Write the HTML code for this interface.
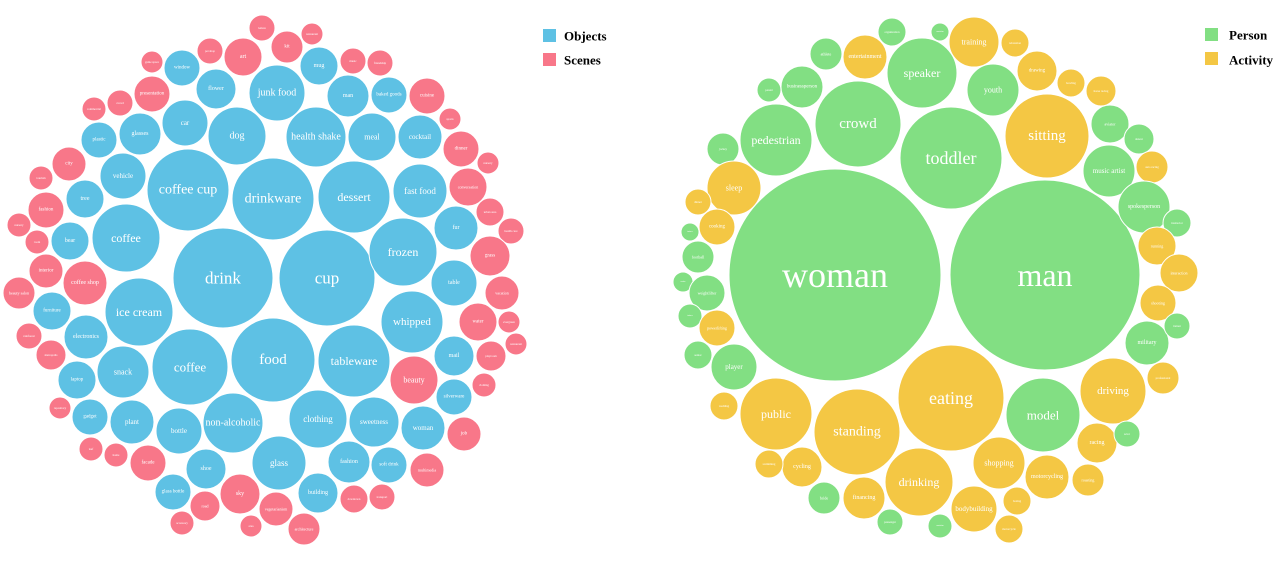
<!DOCTYPE html>
<html><head><meta charset="utf-8"><style>
html,body{margin:0;padding:0;background:#fff;}
svg{display:block;}
circle{stroke:#fff;stroke-width:1;}
.b{fill:#5ec1e4}.r{fill:#f87789}.g{fill:#82df83}.y{fill:#f4c744}
text{font-family:"Liberation Serif",serif;fill:#fff;text-anchor:middle;dominant-baseline:central;}
.lg{fill:#000;font-weight:bold;font-size:13px;text-anchor:start;}
</style></head><body>
<svg width="1280" height="565" viewBox="0 0 1280 565" xmlns="http://www.w3.org/2000/svg">
<!-- LEFT -->
<circle class="b" cx="223" cy="278" r="50"/><text x="223" y="278" font-size="17">drink</text>
<circle class="b" cx="327" cy="278" r="48"/><text x="327" y="278" font-size="17">cup</text>
<circle class="b" cx="188" cy="190" r="41"/><text x="188" y="190" font-size="14">coffee cup</text>
<circle class="b" cx="273" cy="199" r="41"/><text x="273" y="199" font-size="14">drinkware</text>
<circle class="b" cx="354" cy="197" r="36"/><text x="354" y="197" font-size="12">dessert</text>
<circle class="b" cx="273" cy="360" r="42"/><text x="273" y="360" font-size="15">food</text>
<circle class="b" cx="190" cy="367" r="38"/><text x="190" y="367" font-size="13">coffee</text>
<circle class="b" cx="354" cy="361" r="36"/><text x="354" y="361" font-size="12">tableware</text>
<circle class="b" cx="139" cy="312" r="34"/><text x="139" y="312" font-size="12">ice cream</text>
<circle class="b" cx="126" cy="238" r="34"/><text x="126" y="238" font-size="12">coffee</text>
<circle class="b" cx="403" cy="252" r="34"/><text x="403" y="252" font-size="12">frozen</text>
<circle class="b" cx="412" cy="322" r="31"/><text x="412" y="322" font-size="11">whipped</text>
<circle class="b" cx="237" cy="136" r="29"/><text x="237" y="136" font-size="10">dog</text>
<circle class="b" cx="277" cy="93" r="28"/><text x="277" y="93" font-size="10">junk food</text>
<circle class="b" cx="316" cy="137" r="30"/><text x="316" y="137" font-size="10">health shake</text>
<circle class="b" cx="372" cy="137" r="24"/><text x="372" y="137" font-size="8">meal</text>
<circle class="b" cx="420" cy="137" r="22"/><text x="420" y="137" font-size="7">cocktail</text>
<circle class="b" cx="420" cy="191" r="27"/><text x="420" y="191" font-size="9">fast food</text>
<circle class="b" cx="233" cy="423" r="30"/><text x="233" y="423" font-size="10">non-alcoholic</text>
<circle class="b" cx="318" cy="419" r="29"/><text x="318" y="419" font-size="9">clothing</text>
<circle class="b" cx="374" cy="422" r="25"/><text x="374" y="422" font-size="7">sweetness</text>
<circle class="b" cx="423" cy="428" r="22"/><text x="423" y="428" font-size="7">woman</text>
<circle class="b" cx="279" cy="463" r="27"/><text x="279" y="463" font-size="9">glass</text>
<circle class="b" cx="179" cy="431" r="23"/><text x="179" y="431" font-size="7">bottle</text>
<circle class="b" cx="132" cy="422" r="22"/><text x="132" y="422" font-size="7">plant</text>
<circle class="b" cx="123" cy="372" r="26"/><text x="123" y="372" font-size="8">snack</text>
<circle class="b" cx="185" cy="123" r="23"/><text x="185" y="123" font-size="7">car</text>
<circle class="b" cx="216" cy="89" r="20"/><text x="216" y="89" font-size="6">flower</text>
<circle class="b" cx="182" cy="68" r="18"/><text x="182" y="68" font-size="5">window</text>
<circle class="b" cx="319" cy="66" r="19"/><text x="319" y="66" font-size="6">mug</text>
<circle class="b" cx="348" cy="96" r="21"/><text x="348" y="96" font-size="6">man</text>
<circle class="b" cx="389" cy="95" r="18"/><text x="389" y="95" font-size="5">baked goods</text>
<circle class="b" cx="140" cy="134" r="21"/><text x="140" y="134" font-size="6">glasses</text>
<circle class="b" cx="99" cy="140" r="18"/><text x="99" y="140" font-size="5">plastic</text>
<circle class="b" cx="123" cy="176" r="23"/><text x="123" y="176" font-size="7">vehicle</text>
<circle class="b" cx="85" cy="199" r="19"/><text x="85" y="199" font-size="6">tree</text>
<circle class="b" cx="70" cy="241" r="19"/><text x="70" y="241" font-size="6">bear</text>
<circle class="b" cx="456" cy="228" r="22"/><text x="456" y="228" font-size="6">fur</text>
<circle class="b" cx="454" cy="283" r="23"/><text x="454" y="283" font-size="6">table</text>
<circle class="b" cx="454" cy="356" r="20"/><text x="454" y="356" font-size="6">mail</text>
<circle class="b" cx="454" cy="397" r="18"/><text x="454" y="397" font-size="5">silverware</text>
<circle class="b" cx="52" cy="311" r="19"/><text x="52" y="311" font-size="5">furniture</text>
<circle class="b" cx="86" cy="337" r="22"/><text x="86" y="337" font-size="6">electronics</text>
<circle class="b" cx="77" cy="380" r="19"/><text x="77" y="380" font-size="5">laptop</text>
<circle class="b" cx="90" cy="417" r="18"/><text x="90" y="417" font-size="5">gadget</text>
<circle class="b" cx="206" cy="469" r="20"/><text x="206" y="469" font-size="6">shoe</text>
<circle class="b" cx="173" cy="492" r="18"/><text x="173" y="492" font-size="5">glass bottle</text>
<circle class="b" cx="349" cy="462" r="21"/><text x="349" y="462" font-size="6">fashion</text>
<circle class="b" cx="389" cy="465" r="18"/><text x="389" y="465" font-size="5">soft drink</text>
<circle class="b" cx="318" cy="493" r="20"/><text x="318" y="493" font-size="6">building</text>
<circle class="r" cx="414" cy="380" r="24"/><text x="414" y="380" font-size="8">beauty</text>
<circle class="r" cx="464" cy="434" r="17"/><text x="464" y="434" font-size="5">job</text>
<circle class="r" cx="427" cy="470" r="17"/><text x="427" y="470" font-size="4">multimedia</text>
<circle class="r" cx="354" cy="499" r="14"/><text x="354" y="499" font-size="3">downtown</text>
<circle class="r" cx="382" cy="497" r="13"/><text x="382" y="497" font-size="3">transport</text>
<circle class="r" cx="304" cy="529" r="16"/><text x="304" y="529" font-size="4">architecture</text>
<circle class="r" cx="276" cy="509" r="17"/><text x="276" y="509" font-size="4">vegetarianism</text>
<circle class="r" cx="251" cy="526" r="11"/><text x="251" y="526" font-size="3">area</text>
<circle class="r" cx="240" cy="494" r="20"/><text x="240" y="494" font-size="6">sky</text>
<circle class="r" cx="205" cy="506" r="15"/><text x="205" y="506" font-size="4">road</text>
<circle class="r" cx="182" cy="523" r="12"/><text x="182" y="523" font-size="3">accessory</text>
<circle class="r" cx="148" cy="463" r="18"/><text x="148" y="463" font-size="5">facade</text>
<circle class="r" cx="116" cy="455" r="12"/><text x="116" y="455" font-size="3">home</text>
<circle class="r" cx="91" cy="449" r="12"/><text x="91" y="449" font-size="3">leaf</text>
<circle class="r" cx="60" cy="408" r="11"/><text x="60" y="408" font-size="3">repository</text>
<circle class="r" cx="51" cy="355" r="15"/><text x="51" y="355" font-size="3">metropolis</text>
<circle class="r" cx="29" cy="336" r="13"/><text x="29" y="336" font-size="3">rainforest</text>
<circle class="r" cx="19" cy="293" r="16"/><text x="19" y="293" font-size="4">beauty salon</text>
<circle class="r" cx="85" cy="283" r="22"/><text x="85" y="283" font-size="6">coffee shop</text>
<circle class="r" cx="46" cy="271" r="17"/><text x="46" y="271" font-size="5">interior</text>
<circle class="r" cx="37" cy="242" r="12"/><text x="37" y="242" font-size="3">room</text>
<circle class="r" cx="19" cy="225" r="12"/><text x="19" y="225" font-size="3">nursery</text>
<circle class="r" cx="46" cy="210" r="18"/><text x="46" y="210" font-size="5">fashion</text>
<circle class="r" cx="41" cy="178" r="12"/><text x="41" y="178" font-size="3">tourism</text>
<circle class="r" cx="69" cy="164" r="17"/><text x="69" y="164" font-size="5">city</text>
<circle class="r" cx="94" cy="109" r="12"/><text x="94" y="109" font-size="3">commercial</text>
<circle class="r" cx="120" cy="103" r="13"/><text x="120" y="103" font-size="3">crowd</text>
<circle class="r" cx="152" cy="94" r="18"/><text x="152" y="94" font-size="5">presentation</text>
<circle class="r" cx="152" cy="62" r="11"/><text x="152" y="62" font-size="3">game space</text>
<circle class="r" cx="210" cy="51" r="13"/><text x="210" y="51" font-size="3">pet shop</text>
<circle class="r" cx="243" cy="57" r="19"/><text x="243" y="57" font-size="6">art</text>
<circle class="r" cx="262" cy="28" r="13"/><text x="262" y="28" font-size="3">lemon</text>
<circle class="r" cx="287" cy="47" r="16"/><text x="287" y="47" font-size="5">kit</text>
<circle class="r" cx="312" cy="34" r="11"/><text x="312" y="34" font-size="3">restaurant</text>
<circle class="r" cx="353" cy="61" r="13"/><text x="353" y="61" font-size="3">music</text>
<circle class="r" cx="380" cy="63" r="13"/><text x="380" y="63" font-size="3">friendship</text>
<circle class="r" cx="427" cy="96" r="18"/><text x="427" y="96" font-size="5">cuisine</text>
<circle class="r" cx="450" cy="119" r="11"/><text x="450" y="119" font-size="3">sports</text>
<circle class="r" cx="461" cy="149" r="18"/><text x="461" y="149" font-size="5">dinner</text>
<circle class="r" cx="488" cy="163" r="11"/><text x="488" y="163" font-size="3">nursery</text>
<circle class="r" cx="468" cy="187" r="19"/><text x="468" y="187" font-size="4">conversation</text>
<circle class="r" cx="490" cy="212" r="14"/><text x="490" y="212" font-size="3">urban area</text>
<circle class="r" cx="511" cy="231" r="13"/><text x="511" y="231" font-size="3">health care</text>
<circle class="r" cx="490" cy="256" r="20"/><text x="490" y="256" font-size="5">grass</text>
<circle class="r" cx="502" cy="293" r="17"/><text x="502" y="293" font-size="4">vacation</text>
<circle class="r" cx="478" cy="322" r="19"/><text x="478" y="322" font-size="5">water</text>
<circle class="r" cx="509" cy="322" r="11"/><text x="509" y="322" font-size="3">evergreen</text>
<circle class="r" cx="516" cy="344" r="11"/><text x="516" y="344" font-size="3">restaurant</text>
<circle class="r" cx="491" cy="356" r="15"/><text x="491" y="356" font-size="3">playroom</text>
<circle class="r" cx="484" cy="385" r="12"/><text x="484" y="385" font-size="3">clothing</text>
<rect x="543" y="29" width="13" height="13" fill="#5ec1e4"/><text class="lg" x="564" y="36">Objects</text>
<rect x="543" y="53" width="13" height="13" fill="#f87789"/><text class="lg" x="564" y="60">Scenes</text>
<!-- RIGHT -->
<circle class="g" cx="835" cy="275" r="106"/><text x="835" y="275" font-size="36">woman</text>
<circle class="g" cx="1045" cy="275" r="95"/><text x="1045" y="275" font-size="32">man</text>
<circle class="g" cx="951" cy="158" r="51"/><text x="951" y="158" font-size="18">toddler</text>
<circle class="y" cx="1047" cy="136" r="42"/><text x="1047" y="136" font-size="15">sitting</text>
<circle class="g" cx="858" cy="124" r="43"/><text x="858" y="124" font-size="15">crowd</text>
<circle class="g" cx="776" cy="140" r="36"/><text x="776" y="140" font-size="12">pedestrian</text>
<circle class="g" cx="922" cy="73" r="35"/><text x="922" y="73" font-size="12">speaker</text>
<circle class="g" cx="993" cy="90" r="26"/><text x="993" y="90" font-size="8">youth</text>
<circle class="y" cx="974" cy="42" r="25"/><text x="974" y="42" font-size="8">training</text>
<circle class="y" cx="865" cy="57" r="22"/><text x="865" y="57" font-size="6">entertainment</text>
<circle class="g" cx="802" cy="87" r="21"/><text x="802" y="87" font-size="5">businessperson</text>
<circle class="g" cx="826" cy="54" r="16"/><text x="826" y="54" font-size="4">athlete</text>
<circle class="g" cx="892" cy="32" r="14"/><text x="892" y="32" font-size="3">organization</text>
<circle class="g" cx="940" cy="32" r="9"/><text x="940" y="32" font-size="2">musician</text>
<circle class="y" cx="1015" cy="43" r="14"/><text x="1015" y="43" font-size="3">relaxation</text>
<circle class="y" cx="1037" cy="71" r="20"/><text x="1037" y="71" font-size="5">drawing</text>
<circle class="y" cx="1071" cy="83" r="14"/><text x="1071" y="83" font-size="3">bowling</text>
<circle class="y" cx="1101" cy="91" r="15"/><text x="1101" y="91" font-size="3">horse racing</text>
<circle class="g" cx="1110" cy="124" r="19"/><text x="1110" y="124" font-size="4">aviator</text>
<circle class="g" cx="1139" cy="139" r="15"/><text x="1139" y="139" font-size="3">dancer</text>
<circle class="g" cx="1109" cy="171" r="26"/><text x="1109" y="171" font-size="7">music artist</text>
<circle class="y" cx="1152" cy="167" r="16"/><text x="1152" y="167" font-size="3">auto racing</text>
<circle class="g" cx="1144" cy="207" r="26"/><text x="1144" y="207" font-size="6">spokesperson</text>
<circle class="g" cx="1177" cy="223" r="14"/><text x="1177" y="223" font-size="3">instructor</text>
<circle class="y" cx="1157" cy="246" r="19"/><text x="1157" y="246" font-size="4">running</text>
<circle class="y" cx="1179" cy="273" r="19"/><text x="1179" y="273" font-size="4">interaction</text>
<circle class="g" cx="769" cy="90" r="12"/><text x="769" y="90" font-size="3">parent</text>
<circle class="g" cx="723" cy="149" r="16"/><text x="723" y="149" font-size="3">jockey</text>
<circle class="y" cx="734" cy="188" r="27"/><text x="734" y="188" font-size="8">sleep</text>
<circle class="y" cx="698" cy="202" r="13"/><text x="698" y="202" font-size="3">dinner</text>
<circle class="y" cx="717" cy="227" r="18"/><text x="717" y="227" font-size="5">cooking</text>
<circle class="g" cx="690" cy="232" r="9"/><text x="690" y="232" font-size="2">trainee</text>
<circle class="g" cx="698" cy="257" r="16"/><text x="698" y="257" font-size="4">football</text>
<circle class="g" cx="683" cy="282" r="10"/><text x="683" y="282" font-size="2">senior</text>
<circle class="g" cx="707" cy="293" r="18"/><text x="707" y="293" font-size="4">weightlifter</text>
<circle class="g" cx="690" cy="316" r="12"/><text x="690" y="316" font-size="2">trainer</text>
<circle class="y" cx="717" cy="328" r="18"/><text x="717" y="328" font-size="4">powerlifting</text>
<circle class="g" cx="698" cy="355" r="14"/><text x="698" y="355" font-size="3">senior</text>
<circle class="g" cx="734" cy="367" r="23"/><text x="734" y="367" font-size="7">player</text>
<circle class="y" cx="724" cy="406" r="14"/><text x="724" y="406" font-size="3">wedding</text>
<circle class="y" cx="776" cy="414" r="36"/><text x="776" y="414" font-size="12">public</text>
<circle class="y" cx="857" cy="432" r="43"/><text x="857" y="432" font-size="14">standing</text>
<circle class="y" cx="951" cy="398" r="53"/><text x="951" y="398" font-size="18">eating</text>
<circle class="g" cx="1043" cy="415" r="37"/><text x="1043" y="415" font-size="13">model</text>
<circle class="y" cx="1113" cy="391" r="33"/><text x="1113" y="391" font-size="11">driving</text>
<circle class="g" cx="1147" cy="343" r="22"/><text x="1147" y="343" font-size="6">military</text>
<circle class="y" cx="1158" cy="303" r="18"/><text x="1158" y="303" font-size="4">shooting</text>
<circle class="g" cx="1177" cy="326" r="13"/><text x="1177" y="326" font-size="3">trainer</text>
<circle class="y" cx="1163" cy="378" r="16"/><text x="1163" y="378" font-size="3">professional</text>
<circle class="y" cx="1097" cy="443" r="20"/><text x="1097" y="443" font-size="6">racing</text>
<circle class="g" cx="1127" cy="434" r="13"/><text x="1127" y="434" font-size="3">actor</text>
<circle class="y" cx="1088" cy="480" r="16"/><text x="1088" y="480" font-size="4">roasting</text>
<circle class="y" cx="1047" cy="477" r="22"/><text x="1047" y="477" font-size="6">motorcycling</text>
<circle class="y" cx="1017" cy="501" r="14"/><text x="1017" y="501" font-size="3">boxing</text>
<circle class="y" cx="1009" cy="529" r="14"/><text x="1009" y="529" font-size="3">motorcycle</text>
<circle class="y" cx="974" cy="509" r="23"/><text x="974" y="509" font-size="7">bodybuilding</text>
<circle class="y" cx="999" cy="463" r="26"/><text x="999" y="463" font-size="8">shopping</text>
<circle class="y" cx="919" cy="482" r="34"/><text x="919" y="482" font-size="12">drinking</text>
<circle class="g" cx="940" cy="526" r="12"/><text x="940" y="526" font-size="2">musician</text>
<circle class="g" cx="890" cy="522" r="13"/><text x="890" y="522" font-size="3">passenger</text>
<circle class="y" cx="864" cy="498" r="21"/><text x="864" y="498" font-size="6">financing</text>
<circle class="g" cx="824" cy="498" r="16"/><text x="824" y="498" font-size="4">bride</text>
<circle class="y" cx="802" cy="467" r="20"/><text x="802" y="467" font-size="6">cycling</text>
<circle class="y" cx="769" cy="464" r="14"/><text x="769" y="464" font-size="3">swimming</text>
<rect x="1205" y="28" width="13" height="13" fill="#82df83"/><text class="lg" x="1229" y="35">Person</text>
<rect x="1205" y="52" width="13" height="13" fill="#f4c744"/><text class="lg" x="1229" y="60">Activity</text>
</svg>
</body></html>
